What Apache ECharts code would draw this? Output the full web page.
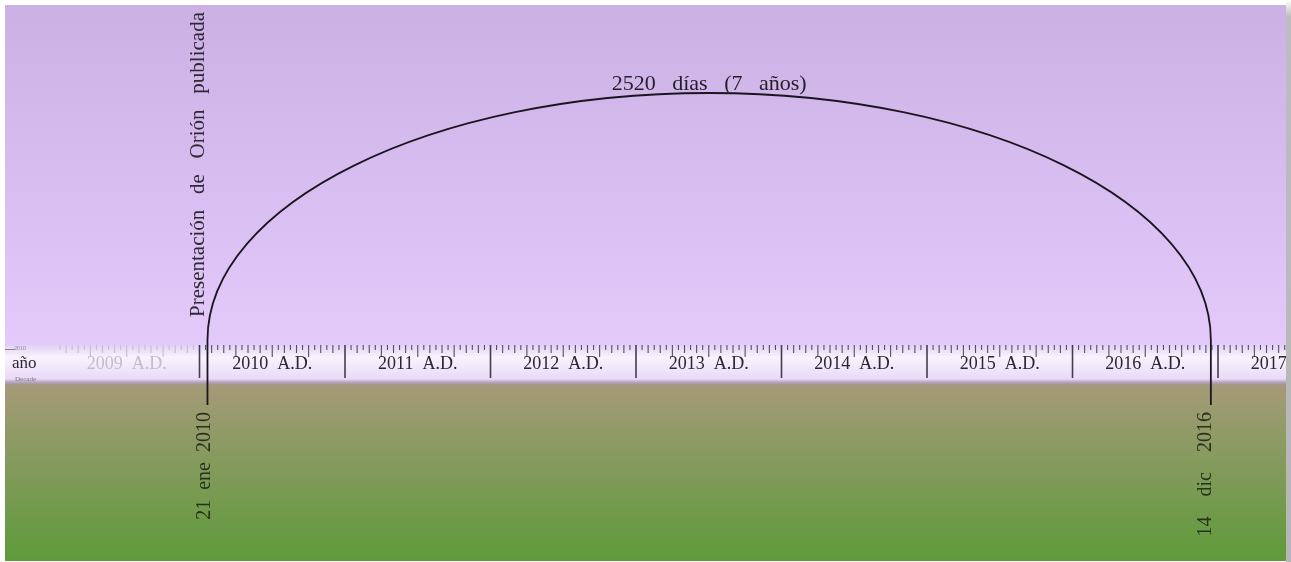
<!DOCTYPE html>
<html><head><meta charset="utf-8">
<script src="https://cdn.jsdelivr.net/npm/echarts@6/dist/echarts.min.js"></script>
<style>html,body{margin:0;padding:0;background:#fff;}#c{width:1291px;height:562px;}</style>
</head><body><div id="c"></div>
<script>
// ---- data ----
const rulerYears = [2009, 2010, 2011, 2012, 2013, 2014, 2015, 2016, 2017];
const fadedYears = [2009];
const yearSuffix = 'A.D.';
const eventDates = ['2010-01-21', '2016-12-14'];
const eventLabels = ['21  ene  2010', '14    dic    2016'];
const startNote = 'Presentación   de   Orión   publicada';
const spanLabel = '2520   días   (7   años)';
const unitLabel = 'año';

// ---- layout constants (axis units) ----
const X_MIN = 2008.6632, X_MAX = 2017.4673;
const Y_MAX = 556;           // pixel y = 561 - v
const RULER_TOP = 216, RULER_BOTTOM = 176;
const ARC_BASE = 221, ARC_TOP = 468, LINE_BOTTOM = 156;
const SERIF = '"Liberation Serif","DejaVu Serif",serif';

function toYear(s) {
  const [y, m, d] = s.split('-').map(Number);
  const a = Date.UTC(y, 0, 1), b = Date.UTC(y + 1, 0, 1);
  return y + (Date.UTC(y, m - 1, d) - a) / (b - a);
}
const eventYears = eventDates.map(toYear);

const chart = echarts.init(document.getElementById('c'), null, {renderer: 'canvas'});

const bands = [
  {y0: RULER_TOP, y1: Y_MAX, stops: [[0, '#cbb0e4'], [1, '#e3cafb']]},
  {y0: RULER_BOTTOM, y1: RULER_TOP, stops: [[0, '#e2d0f5'], [0.3, '#f8f3fd'], [0.85, '#ead9f8'], [0.93, '#b4a4bc'], [1, '#9e9788']]},
  {y0: 0, y1: RULER_BOTTOM, stops: [[0, '#a59a78'], [0.45, '#849a5c'], [1, '#5e9b3a']]}
];

const option = {
  animation: false,
  backgroundColor: '#ffffff',
  grid: {left: 5, right: 5, top: 5, bottom: 1, containLabel: false},
  xAxis: {type: 'value', min: X_MIN, max: X_MAX, show: false},
  yAxis: {type: 'value', min: 0, max: Y_MAX, show: false},
  series: [
    {
      type: 'custom', z: 1, silent: true,
      data: bands.map((b, i) => [i]),
      renderItem(params, api) {
        const b = bands[api.value(0)];
        const p0 = api.coord([X_MIN, b.y1]);
        const p1 = api.coord([X_MAX, b.y0]);
        return {
          type: 'rect',
          shape: {x: p0[0], y: p0[1], width: p1[0] - p0[0], height: p1[1] - p0[1]},
          style: {fill: new echarts.graphic.LinearGradient(0, 0, 0, 1, b.stops.map(s => ({offset: s[0], color: s[1]})))}
        };
      }
    },
    {
      type: 'custom', z: 3, silent: true,
      data: rulerYears.map(y => [y]),
      renderItem(params, api) {
        const year = api.value(0);
        const x0 = api.coord([year, RULER_TOP])[0];
        const x1 = api.coord([year + 1, RULER_TOP])[0];
        const yTop = api.coord([year, RULER_TOP])[1];
        const faded = fadedYears.includes(year);
        const tc = faded ? '#c6bccf' : '#564e5e';
        const children = [];
        if (!faded) {
          children.push({type: 'line', shape: {x1: x0, y1: yTop, x2: x0, y2: yTop + 33},
            style: {stroke: '#443e4c', lineWidth: 1.6}});
        }
        for (let m = 1; m < 24; m++) {
          const xm = x0 + (x1 - x0) * m / 24;
          let len = 5;
          if (m % 2 === 0) len = 8;
          if (m % 6 === 0) len = 12;
          children.push({type: 'line', shape: {x1: xm, y1: yTop, x2: xm, y2: yTop + len},
            style: {stroke: tc, lineWidth: 1.1}});
        }
        children.push({type: 'text', style: {
          text: year + '  ' + yearSuffix, x: (x0 + x1) / 2, y: yTop + 19,
          align: 'center', verticalAlign: 'middle',
          font: '18px ' + SERIF, fill: faded ? '#c4bccb' : '#2c2632'
        }});
        return {type: 'group', children};
      }
    },
    {
      type: 'custom', z: 4, silent: true,
      data: [[eventYears[0], eventYears[1]]],
      renderItem(params, api) {
        const s = api.value(0), e = api.value(1);
        const p1 = api.coord([s, ARC_BASE]);
        const p2 = api.coord([e, ARC_BASE]);
        const top = api.coord([(s + e) / 2, ARC_TOP])[1];
        const bot = api.coord([s, LINE_BOTTOM])[1];
        const cx = (p1[0] + p2[0]) / 2, rx = (p2[0] - p1[0]) / 2, ry = p1[1] - top, k = 0.5523;
        const path = `M${p1[0]} ${p1[1]} C${p1[0]} ${p1[1] - k * ry} ${cx - k * rx} ${top} ${cx} ${top} ` +
          `C${cx + k * rx} ${top} ${p2[0]} ${p1[1] - k * ry} ${p2[0]} ${p1[1]}`;
        const lineStyle = {stroke: '#1a1620', lineWidth: 1.8, fill: null};
        return {type: 'group', children: [
          {type: 'path', shape: {pathData: path}, style: lineStyle},
          {type: 'line', shape: {x1: p1[0], y1: p1[1], x2: p1[0], y2: bot}, style: lineStyle},
          {type: 'line', shape: {x1: p2[0], y1: p2[1], x2: p2[0], y2: bot}, style: lineStyle},
          {type: 'text', style: {text: spanLabel, x: cx, y: top - 9, align: 'center', verticalAlign: 'middle',
            font: '22px ' + SERIF, fill: '#241e2a'}},
          {type: 'text', x: p1[0] + 2, y: p1[1] - 23, rotation: Math.PI / 2,
            style: {text: startNote, x: 0, y: 0, align: 'left', verticalAlign: 'bottom',
              font: '21px ' + SERIF, fill: '#2e2834'}},
          {type: 'text', x: p1[0] - 3, y: bot + 7, rotation: Math.PI / 2,
            style: {text: eventLabels[0], x: 0, y: 0, align: 'right', verticalAlign: 'middle',
              font: '20px ' + SERIF, fill: '#26321c'}},
          {type: 'text', x: p2[0] - 5, y: bot + 7, rotation: Math.PI / 2,
            style: {text: eventLabels[1], x: 0, y: 0, align: 'right', verticalAlign: 'middle',
              font: '20px ' + SERIF, fill: '#26321c'}}
        ]};
      }
    }
  ],
  graphic: [
    {type: 'text', left: 12, top: 355, z: 10, style: {text: unitLabel, font: '17px ' + SERIF, fill: '#2e2834'}},
    {type: 'text', left: 15, top: 376, z: 10, style: {text: 'Decade', font: '7px ' + SERIF, fill: '#7a7280'}},
    {type: 'text', left: 14, top: 345, z: 10, style: {text: '2010', font: '6px ' + SERIF, fill: '#8a8290'}},
    {type: 'rect', left: 5, top: 349, z: 10, shape: {width: 10, height: 1}, style: {fill: '#8a8290'}},
    {type: 'rect', left: 1286, top: 0, z: 20, shape: {width: 5, height: 562},
      style: {fill: new echarts.graphic.LinearGradient(0, 0, 0, 1, [
        {offset: 0, color: '#ffffff'}, {offset: 0.03, color: '#bdbdbd'}, {offset: 1, color: '#b6b6b6'}])}}
  ]
};
chart.setOption(option);
</script></body></html>
